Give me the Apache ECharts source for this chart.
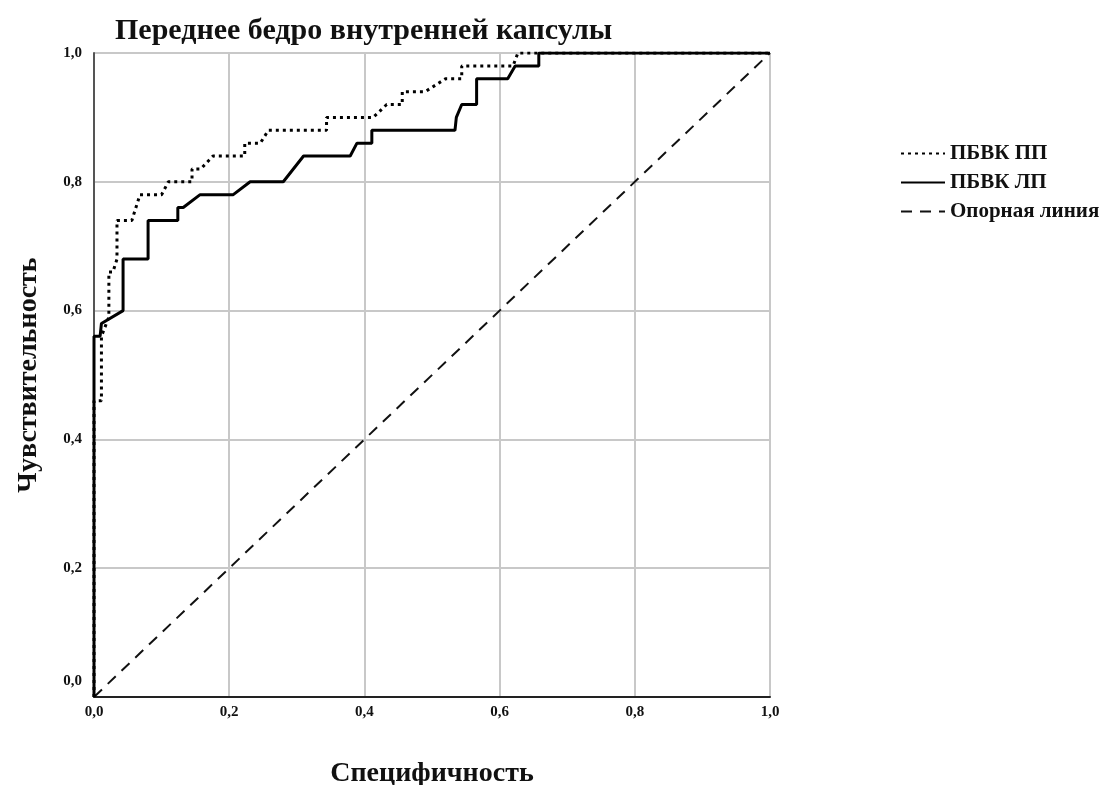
<!DOCTYPE html>
<html>
<head>
<meta charset="utf-8">
<script src="https://cdn.jsdelivr.net/npm/echarts@6/dist/echarts.min.js"></script>
<style>html,body{margin:0;padding:0;background:#fff;}#c{width:1107px;height:785px;}</style>
</head>
<body>
<div id="c"></div>
<script>
const titleText = 'Переднее бедро внутренней капсулы';
const xAxisName = 'Специфичность';
const yAxisName = 'Чувствительность';
const seriesNames = ['ПБВК ПП', 'ПБВК ЛП', 'Опорная линия'];
const tickValues = [0, 0.2, 0.4, 0.6, 0.8, 1.0];

// ПБВК ПП (dotted)
const curvePP = [[0,0],[0,0.46],[0.011,0.46],[0.011,0.56],[0.022,0.59],[0.022,0.66],[0.028,0.66],[0.034,0.68],[0.034,0.74],[0.056,0.74],[0.068,0.78],[0.10,0.78],[0.11,0.80],[0.145,0.80],[0.145,0.82],[0.158,0.82],[0.176,0.84],[0.223,0.84],[0.223,0.86],[0.246,0.86],[0.258,0.88],[0.344,0.88],[0.344,0.90],[0.413,0.90],[0.433,0.92],[0.456,0.92],[0.456,0.94],[0.49,0.94],[0.52,0.96],[0.544,0.96],[0.544,0.98],[0.62,0.98],[0.627,1.0],[1,1]];
// ПБВК ЛП (solid)
const curveLP = [[0,0],[0,0.56],[0.009,0.56],[0.011,0.58],[0.043,0.60],[0.043,0.68],[0.080,0.68],[0.080,0.74],[0.124,0.74],[0.124,0.76],[0.132,0.76],[0.157,0.78],[0.206,0.78],[0.231,0.80],[0.280,0.80],[0.310,0.84],[0.379,0.84],[0.389,0.86],[0.411,0.86],[0.411,0.88],[0.534,0.88],[0.536,0.90],[0.544,0.92],[0.566,0.92],[0.566,0.96],[0.612,0.96],[0.623,0.98],[0.658,0.98],[0.658,1.0],[1,1]];
// Опорная линия
const refLine = [[0,0],[1,1]];

const serif = '"Liberation Serif", "DejaVu Serif", serif';
const fmt = v => v.toFixed(1).replace('.', ',');

const chart = echarts.init(document.getElementById('c'), null, {renderer: 'canvas'});
chart.setOption({
  animation: false,
  backgroundColor: '#fff',
  title: {
    text: titleText, left: 110, top: 11,
    textStyle: {fontFamily: serif, fontWeight: 'bold', fontSize: 30, color: '#111'}
  },
  grid: {left: 94, right: 337, top: 53, bottom: 88, containLabel: false, outerBoundsMode: 'none'},
  legend: {
    orient: 'vertical', left: 895, top: 138, itemWidth: 44, itemHeight: 22, itemGap: 8,
    data: seriesNames,
    itemStyle: {opacity: 0},
    textStyle: {fontFamily: serif, fontWeight: 'bold', fontSize: 21, color: '#111'}
  },
  xAxis: {
    type: 'value', min: 0, max: 1, interval: 0.2,
    name: xAxisName, nameLocation: 'middle', nameGap: 63,
    nameTextStyle: {fontFamily: serif, fontWeight: 'bold', fontSize: 28, color: '#111'},
    axisLine: {show: true, lineStyle: {color: '#222', width: 2}},
    axisTick: {show: false},
    axisLabel: {formatter: fmt, margin: 8, fontFamily: serif, fontWeight: 'bold', fontSize: 15, color: '#111'},
    splitLine: {show: true, lineStyle: {color: '#c8c8c8', width: 2}}
  },
  yAxis: {
    type: 'value', min: 0, max: 1, interval: 0.2,
    name: yAxisName, nameLocation: 'middle', nameGap: 51,
    nameTextStyle: {fontFamily: serif, fontWeight: 'bold', fontSize: 28, color: '#111'},
    axisLine: {show: true, lineStyle: {color: '#555', width: 2}},
    axisTick: {show: false},
    axisLabel: {
      formatter: v => v === 0 ? '{lo|' + fmt(v) + '}' : fmt(v),
      rich: {lo: {padding: [0, 0, 32, 0], fontFamily: serif, fontWeight: 'bold', fontSize: 15, color: '#111'}},
      margin: 12, fontFamily: serif, fontWeight: 'bold', fontSize: 15, color: '#111'
    },
    splitLine: {show: true, lineStyle: {color: '#c8c8c8', width: 2}}
  },
  series: [
    {name: seriesNames[0], type: 'line', data: curvePP, showSymbol: false, symbol: 'none',
     lineStyle: {color: '#000', width: 3, type: [3, 4]}, itemStyle: {color: '#000'}, z: 3},
    {name: seriesNames[1], type: 'line', data: curveLP, showSymbol: false, symbol: 'none',
     lineStyle: {color: '#000', width: 3, type: 'solid'}, itemStyle: {color: '#000'}, z: 4},
    {name: seriesNames[2], type: 'line', data: refLine, showSymbol: false, symbol: 'none',
     lineStyle: {color: '#111', width: 2, type: [11, 8]}, itemStyle: {color: '#111'}, z: 2}
  ]
});
</script>
</body>
</html>
